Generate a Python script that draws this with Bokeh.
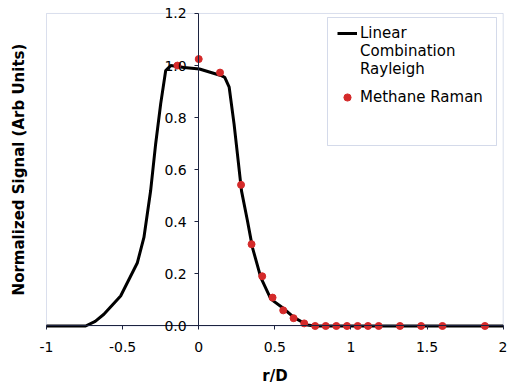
import math
from bokeh.plotting import figure
from bokeh.models import (Range1d, LinearAxis, Legend, LegendItem, FixedTicker,
                          BoxAnnotation, Label)
from bokeh.embed import file_html
from bokeh.resources import INLINE

# Linear Combination Rayleigh (line)
line_x = [-1.0, -0.743, -0.68, -0.623, -0.513, -0.403, -0.36, -0.316, -0.283, -0.25,
          -0.217, -0.184, -0.097, 0.005, 0.145, 0.171, 0.2, 0.232, 0.259, 0.281,
          0.32, 0.353, 0.408, 0.474, 0.551, 0.627, 0.715, 0.76, 2.0]
line_y = [0.0, 0.0, 0.018, 0.045, 0.115, 0.243, 0.34, 0.519, 0.699, 0.853,
          0.981, 1.0, 0.993, 0.987, 0.962, 0.955, 0.917, 0.776, 0.635, 0.519,
          0.404, 0.301, 0.186, 0.103, 0.07, 0.032, 0.004, 0.0, 0.0]

# Methane Raman (points)
pts_x = [-0.14, 0.0, 0.14, 0.278, 0.347, 0.417, 0.485, 0.555, 0.623, 0.693,
         0.765, 0.834, 0.904, 0.974, 1.044, 1.112, 1.182, 1.322, 1.461, 1.601, 1.880]
pts_y = [1.0, 1.025, 0.973, 0.542, 0.314, 0.191, 0.109, 0.060, 0.030, 0.010,
         0.0, 0.0, 0.0, 0.0, 0.0, 0.0, 0.0, 0.0, 0.0, 0.0, 0.0]

x_ticks = [-1, -0.5, 0, 0.5, 1, 1.5, 2]
x_tick_labels = {-1: "-1", -0.5: "-0.5", 0: "0", 0.5: "0.5", 1: "1", 1.5: "1.5", 2: "2"}
y_ticks = [0.0, 0.2, 0.4, 0.6, 0.8, 1.0, 1.2]
y_tick_labels = {0.0: "0.0", 0.2: "0.2", 0.4: "0.4", 0.6: "0.6", 0.8: "0.8", 1.0: "1.0", 1.2: "1.2"}
X_MIN, X_MAX = -1, 2
Y_MIN, Y_MAX = 0.0, 1.2

FONT = "DejaVu Sans"
AXIS_COLOR = "#1c2340"

W, H = 507, 384
p = figure(width=W, height=H, output_backend="svg", toolbar_location=None,
           x_range=Range1d(-1.3022, 2.0283), y_range=Range1d(-0.2247, 1.2499),
           x_axis_location=None, y_axis_location=None,
           min_border_left=0, min_border_right=0, min_border_top=0, min_border_bottom=0)
p.background_fill_color = "white"
p.border_fill_color = "white"
p.outline_line_color = None
p.xgrid.visible = False
p.ygrid.visible = False

# plot-area frame (from -1..2, 0..1.2)
frame = BoxAnnotation(left=X_MIN, right=X_MAX, bottom=Y_MIN, top=Y_MAX,
                      fill_alpha=0, line_color="#8496c4", line_width=1, level="underlay")
p.add_layout(frame)

xaxis = LinearAxis(fixed_location=0, ticker=FixedTicker(ticks=x_ticks),
                   major_label_overrides=x_tick_labels, axis_label="r/D",
                   bounds=(X_MIN, X_MAX))
yaxis = LinearAxis(fixed_location=0, ticker=FixedTicker(ticks=y_ticks),
                   major_label_overrides=y_tick_labels, bounds=(Y_MIN, Y_MAX))
for ax in (xaxis, yaxis):
    ax.axis_line_color = AXIS_COLOR
    ax.axis_line_width = 1
    ax.major_tick_line_color = AXIS_COLOR
    ax.major_tick_out = 4
    ax.major_tick_in = 0
    ax.minor_tick_line_color = None
    ax.major_label_text_font = FONT
    ax.major_label_text_font_size = "14px"
    ax.major_label_text_color = "black"
xaxis.major_label_standoff = 12
yaxis.major_label_standoff = 8
xaxis.axis_label_text_font = FONT
xaxis.axis_label_text_font_size = "15px"
xaxis.axis_label_text_font_style = "bold"
xaxis.axis_label_text_color = "black"
xaxis.axis_label_standoff = 12
p.add_layout(xaxis, "below")
p.add_layout(yaxis, "left")

ytitle = Label(x=18, y=H - 169, x_units="screen", y_units="screen",
               text="Normalized Signal (Arb Units)", angle=math.pi / 2,
               text_align="center", text_baseline="middle",
               text_font=FONT, text_font_size="15px", text_font_style="bold",
               text_color="black")
p.add_layout(ytitle)

r_line = p.line(line_x, line_y, line_color="black", line_width=3)
r_pts = p.scatter(pts_x, pts_y, size=7, fill_color="#d42a2a", line_color="#d42a2a")
dummy1 = p.line([], [], line_alpha=0)
dummy2 = p.line([], [], line_alpha=0)

# legend box
box = BoxAnnotation(left=327, right=496, top=H - 17, bottom=H - 145,
                    left_units="screen", right_units="screen",
                    top_units="screen", bottom_units="screen",
                    fill_color="white", fill_alpha=1.0,
                    line_color="#6f86b8", line_width=1, level="overlay")
p.add_layout(box)

def style_legend(lg):
    lg.label_text_font = FONT
    lg.label_text_font_size = "15px"
    lg.label_text_color = "black"
    lg.border_line_color = None
    lg.background_fill_alpha = 0
    lg.glyph_width = 20
    lg.glyph_height = 18
    lg.label_height = 18
    lg.label_standoff = 3
    lg.spacing = 0
    lg.padding = 0
    lg.margin = 0
    lg.level = "overlay"

legend1 = Legend(items=[LegendItem(label="Linear", renderers=[r_line]),
                        LegendItem(label="Combination", renderers=[dummy1]),
                        LegendItem(label="Rayleigh", renderers=[dummy2])],
                 location=(337, H - 78))
legend2 = Legend(items=[LegendItem(label="Methane Raman", renderers=[r_pts])],
                 location=(337, H - 106))
style_legend(legend1)
style_legend(legend2)
p.add_layout(legend1, "center")
p.add_layout(legend2, "center")

open("out.html", "w").write(file_html(p, INLINE))
